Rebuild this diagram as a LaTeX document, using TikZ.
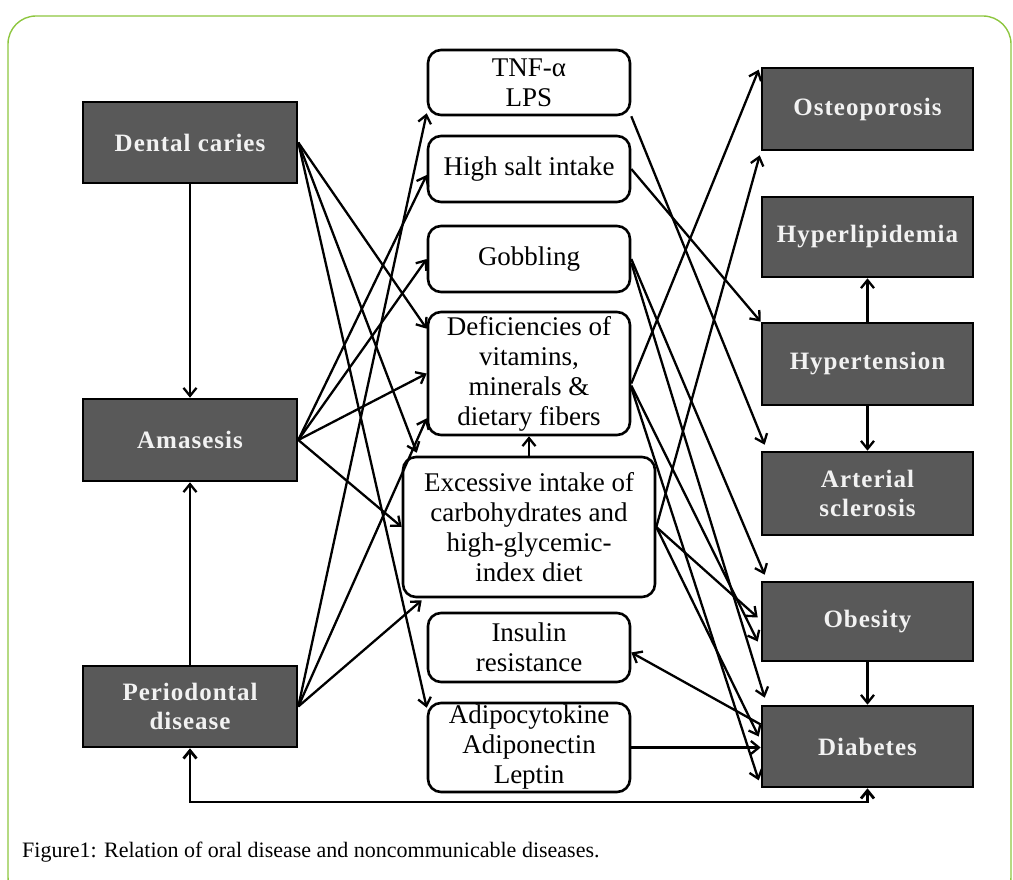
\documentclass[tikz,border=0pt]{standalone}
\usepackage{fontspec}
\setmainfont{Liberation Serif}
\newfontfamily\boxfont{Liberation Serif}[LetterSpace=4]
\usetikzlibrary{arrows.meta,calc}
\definecolor{boxgray}{HTML}{595959}
\definecolor{framegreen}{HTML}{8DC63F}
\definecolor{lbl}{HTML}{F2F2F2}
\begin{document}
\begin{tikzpicture}[x=1pt,y=-1pt,
  dark/.style={draw=black, line width=2.6pt, fill=boxgray, text=lbl,
    font=\boxfont\bfseries\fontsize{25}{29}\selectfont, align=center, inner sep=0pt},
  lbox/.style={dark, minimum width=214pt},
  rbox/.style={dark, minimum width=211pt},
  mid/.style={draw=black, line width=2.6pt, rounded corners=13pt, fill=white,
    font=\fontsize{27}{30}\selectfont, align=center, inner sep=0pt, minimum width=202pt},
  arr/.style={line width=2.3pt, -{Straight Barb[length=8pt,width=13pt]}},
  arrb/.style={line width=2.8pt, {Straight Barb[length=8pt,width=13pt]}-{Straight Barb[length=8pt,width=13pt]}}
]
\useasboundingbox (0,0) rectangle (1013,880);
\begin{scope}
  \clip (0,0) rectangle (1013,880);
  \draw[framegreen, line width=1.4pt, rounded corners=28pt] (8,16) rectangle (1011,905);
\end{scope}

% left column
\node[lbox, minimum height=81pt] (dc) at (190,142.5) {Dental caries};
\node[lbox, minimum height=82pt] (am) at (190,440) {Amasesis};
\node[lbox, minimum height=81pt] (pd) at (190,706.5) {Periodontal\\disease};

% middle column
\node[mid, minimum height=65pt] (tnf) at (529,82.5) {TNF-α\\LPS};
\node[mid, minimum height=66pt] (hs) at (529,169) {High salt intake};
\node[mid, minimum height=66pt] (gob) at (529,259) {Gobbling};
\node[mid, minimum height=123pt] (def) at (529,373.5) {Deficiencies of\\vitamins,\\minerals \&\\dietary fibers};
\node[mid, minimum height=140pt, minimum width=252pt] (exc) at (529,527) {Excessive intake of\\carbohydrates and\\high-glycemic-\\index diet};
\node[mid, minimum height=69pt] (ins) at (529,647.5) {Insulin\\resistance};
\node[mid, minimum height=89pt] (adi) at (529,747.5) {Adipocytokine\\Adiponectin\\Leptin};

% right column
\node[rbox, minimum height=82pt] (ost) at (867.5,109) {Osteoporosis};
\node[rbox, minimum height=80pt] (hyl) at (867.5,237) {Hyperlipidemia};
\node[rbox, minimum height=82pt] (hyt) at (867.5,364) {Hypertension};
\node[rbox, minimum height=83pt] (art) at (867.5,493.5) {Arterial\\sclerosis};
\node[rbox, minimum height=79pt] (obe) at (867.5,621.5) {Obesity};
\node[rbox, minimum height=81pt] (dia) at (867.5,746.5) {Diabetes};

% vertical links
\draw[arr] (dc.south) -- (am.north);
\draw[arr] (pd.north) -- (am.south);
\draw[arr] (exc.north) -- (def.south);
\draw[arr] (hyt.north) -- (hyl.south);
\draw[arr] (hyt.south) -- (art.north);
\draw[arr] (obe.south) -- (dia.north);
\coordinate (bl) at (190,802);
\draw[arrb] (pd.south) -- (bl) -| (dia.south);

% left to middle
\draw[arr] (dc.east) -- ($(def.north west)+(0,18)$);
\draw[arr] (dc.east) -- ($(exc.north west)+(15,-3)$);
\draw[arr] (dc.east) -- ($(adi.north west)+(0,6)$);
\draw[arr] (am.east) -- ($(hs.west)+(0,6)$);
\draw[arr] (am.east) -- (gob.west);
\draw[arr] (am.east) -- (def.west);
\draw[arr] (am.east) -- (exc.west);
\draw[arr] (pd.east) -- ($(tnf.south west)+(0,-3)$);
\draw[arr] (pd.east) -- ($(def.south west)+(0,-18)$);
\draw[arr] (pd.east) -- ($(exc.south west)+(20,2)$);

% middle to right
\draw[arr] (tnf.south east) -- ($(art.north west)+(4,-6)$);
\draw[arr] (hs.east) -- (hyt.north west);
\draw[arr] ($(def.east)+(0,10)$) -- ($(ost.north west)+(-2,3)$);
\draw[arr] (exc.east) -- ($(ost.south west)+(-1,4)$);
\draw[arr] (gob.east) -- ($(obe.north west)+(4,-6)$);
\draw[arr] ($(gob.east)+(0,4)$) -- ($(dia.north west)+(4,-7)$);
\draw[arr] (exc.east) -- ($(obe.west)+(-3,-4)$);
\draw[arr] ($(def.east)+(0,12)$) -- ($(obe.west)+(-3,20)$);
\draw[arr] (exc.east) -- ($(dia.west)+(-2,-10)$);
\draw[arr] ($(def.east)+(0,14)$) -- ($(dia.south west)+(-2,-8)$);
\draw[arr] ($(dia.west)+(0,-22)$) -- ($(ins.east)+(0,5)$);
\draw[arr] (adi.east) -- (adi.east -| dia.west);

% caption
\node[anchor=west, inner sep=0pt, font=\fontsize{22}{26}\selectfont] (cap) at (22,852) {Figure1: Relation of oral disease and noncommunicable diseases.};
\end{tikzpicture}
\end{document}
